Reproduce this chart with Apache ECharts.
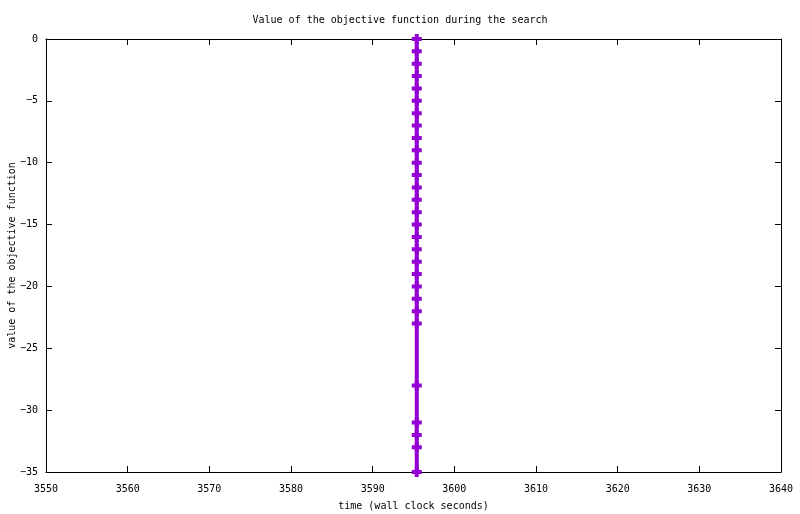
<!DOCTYPE html>
<html>
<head>
<meta charset="utf-8">
<script src="https://cdn.jsdelivr.net/npm/echarts@6/dist/echarts.min.js"></script>
<style>
html,body{margin:0;padding:0;background:#fff;}
#main{width:800px;height:514px;}
</style>
</head>
<body>
<div id="main"></div>
<script>
// time of each improvement (wall clock seconds), all at about the same moment
var times = [3595.4,3595.4,3595.4,3595.4,3595.4,3595.4,3595.4,3595.4,3595.4,3595.4,
             3595.4,3595.4,3595.4,3595.4,3595.4,3595.4,3595.4,3595.4,3595.4,3595.4,
             3595.4,3595.4,3595.4,3595.4,3595.4,3595.4,3595.4,3595.4,3595.4];
// value of the objective function at each point
var objective = [0,-1,-2,-3,-4,-5,-6,-7,-8,-9,-10,-11,-12,-13,-14,-15,-16,-17,-18,-19,
                 -20,-21,-22,-23,-28,-31,-32,-33,-35];

var xTicks = {min:3550, max:3640, interval:10};
var yTicks = {min:-35, max:0, interval:5};

var pts = [];
for (var i = 0; i < times.length; i++) {
    pts.push([times[i], objective[i]]);
}

var font = '"DejaVu Sans Mono", monospace';
var axisBase = {
    axisLine: {show: true, onZero: false, lineStyle: {color: '#000', width: 1}},
    axisTick: {show: true, inside: true, length: 6, lineStyle: {color: '#000', width: 1}},
    splitLine: {show: false}
};
function plain(v){ return String(v); }

var option = {
    animation: false,
    backgroundColor: '#fff',
    title: {
        text: 'Value of the objective function during the search',
        left: 'center',
        top: 10,
        textStyle: {fontFamily: font, fontSize: 10, fontWeight: 'normal', color: '#000'}
    },
    grid: {left: 46, top: 39, right: 19, bottom: 42, containLabel: false, outerBoundsMode: 'none'}
};

option.xAxis = [
    Object.assign({}, axisBase, {
        type: 'value', position: 'bottom',
        min: xTicks.min, max: xTicks.max, interval: xTicks.interval,
        name: 'time (wall clock seconds)', nameLocation: 'middle', nameGap: 29,
        nameMoveOverlap: false,
        nameTextStyle: {fontFamily: font, fontSize: 10, color: '#000'},
        axisLabel: {fontFamily: font, fontSize: 10, color: '#000', margin: 12, formatter: plain}
    }),
    Object.assign({}, axisBase, {
        type: 'value', position: 'top',
        min: xTicks.min, max: xTicks.max, interval: xTicks.interval,
        axisLabel: {show: false}
    })
];
option.yAxis = [
    Object.assign({}, axisBase, {
        type: 'value', position: 'left',
        min: yTicks.min, max: yTicks.max, interval: yTicks.interval,
        name: 'value of the objective function', nameLocation: 'middle', nameGap: 29,
        nameMoveOverlap: false,
        nameTextStyle: {fontFamily: font, fontSize: 10, color: '#000'},
        axisLabel: {fontFamily: font, fontSize: 10, color: '#000', margin: 8,
            formatter: function(v){ return String(v).replace('-', '\u2212'); }}
    }),
    Object.assign({}, axisBase, {
        type: 'value', position: 'right',
        min: yTicks.min, max: yTicks.max, interval: yTicks.interval,
        axisLabel: {show: false}
    })
];
option.series = [{
    name: 'objective',
    type: 'line',
    data: pts,
    xAxisIndex: 0,
    yAxisIndex: 0,
    clip: false,
    color: '#9400d3',
    lineStyle: {color: '#9400d3', width: 4},
    symbol: 'path://M0,3H10V7H0Z M3,0H7V10H3Z',
    symbolSize: 10,
    showAllSymbol: true,
    itemStyle: {color: '#9400d3'}
}];

var myChart = echarts.init(document.getElementById('main'));
myChart.setOption(option);
</script>
</body>
</html>
